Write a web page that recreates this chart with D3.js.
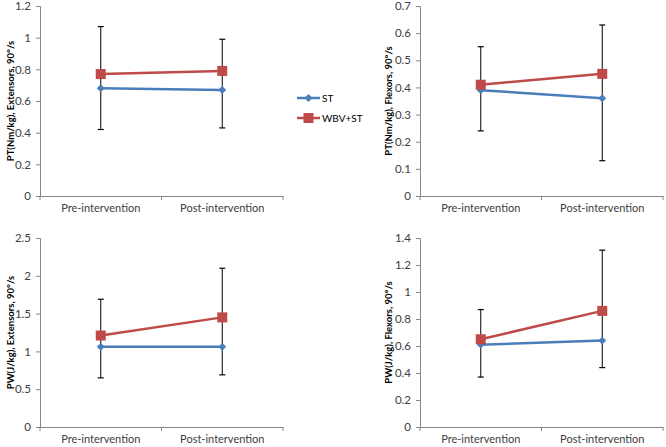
<!DOCTYPE html>
<html><head><meta charset="utf-8">
<script src="https://cdn.jsdelivr.net/npm/d3@7"></script>
<style>body{margin:0;background:#fff}svg{display:block}</style>
</head><body>
<script>
const categories = ["Pre-intervention", "Post-intervention"];
const seriesNames = ["ST", "WBV+ST"];
const panelTitles = ["PT(Nm/kg), Extensors, 90°/s", "PT(Nm/kg), Flexors, 90°/s", "PW(J/kg), Extensors, 90°/s", "PW(J/kg), Flexors, 90°/s"];
const yMax = [1.2, 0.7, 2.5, 1.4];
const yStep = [0.2, 0.1, 0.5, 0.2];
const stValues = [[0.68, 0.67], [0.39, 0.36], [1.06, 1.06], [0.61, 0.64]];
const wbvValues = [[0.77, 0.79], [0.41, 0.45], [1.21, 1.45], [0.65, 0.86]];
const errTop = [[1.07, 0.99], [0.55, 0.63], [1.69, 2.10], [0.87, 1.31]];
const errBottom = [[0.42, 0.43], [0.24, 0.13], [0.65, 0.69], [0.37, 0.44]];

const W = 666, H = 447;
const svg = d3.select("body").append("svg").attr("width", W).attr("height", H);
const font = "Lato, 'Open Sans', sans-serif";
const colors = {"ST": "#4a7ebb", "WBV+ST": "#be4b48"};

const layouts = [
  {x0: 40, x1: 283, y0: 6, y1: 196, lx: 10},
  {x0: 420, x1: 663, y0: 6, y1: 196, lx: 388},
  {x0: 40, x1: 283, y0: 238, y1: 427, lx: 10},
  {x0: 420, x1: 663, y0: 238, y1: 427, lx: 388}
];

layouts.forEach((L, i) => {
  const g = svg.append("g");
  const x = d3.scaleBand().domain(categories).range([L.x0, L.x1]);
  const y = d3.scaleLinear().domain([0, yMax[i]]).range([L.y1, L.y0]);
  const ticks = d3.range(0, yMax[i] + yStep[i] / 2, yStep[i]);
  const fmt = v => { const s = d3.format(".1f")(v); return s.endsWith(".0") ? s.slice(0, -2) : s; };

  const ya = g.append("g").attr("transform", `translate(${L.x0},0)`)
    .call(d3.axisLeft(y).tickValues(ticks).tickFormat(fmt).tickSizeOuter(0).tickSize(4).tickPadding(5));
  ya.select(".domain").attr("stroke", "#868686");
  ya.selectAll(".tick line").attr("stroke", "#868686");
  ya.selectAll("text").attr("font-family", font).attr("font-size", 11.5).attr("fill", "#404040");

  const xa = g.append("g").attr("transform", `translate(0,${L.y1})`)
    .call(d3.axisBottom(x).tickSize(0).tickPadding(8));
  xa.select(".domain").attr("stroke", "#868686");
  xa.selectAll("text").attr("font-family", font).attr("font-size", 11).attr("fill", "#404040");
  const bounds = [L.x0, x(categories[1]), L.x1];
  g.selectAll(".xt").data(bounds).enter().append("line")
    .attr("x1", d => d).attr("x2", d => d).attr("y1", L.y1).attr("y2", L.y1 + 4)
    .attr("stroke", "#868686");

  g.append("text")
    .attr("transform", `translate(${L.lx},${(L.y0 + L.y1) / 2}) rotate(-90)`)
    .attr("text-anchor", "middle").attr("dominant-baseline", "central")
    .attr("font-family", font).attr("font-size", 9.5).attr("font-weight", "bold").attr("fill", "#000")
    .text(panelTitles[i]);

  const cx = c => x(c) + x.bandwidth() / 2;

  categories.forEach((c, j) => {
    const px = cx(c);
    g.append("line").attr("x1", px).attr("x2", px).attr("y1", y(errTop[i][j])).attr("y2", y(errBottom[i][j]))
      .attr("stroke", "#000").attr("stroke-width", 1);
    [errTop[i][j], errBottom[i][j]].forEach(v => {
      g.append("line").attr("x1", px - 3).attr("x2", px + 3).attr("y1", y(v)).attr("y2", y(v))
        .attr("stroke", "#000").attr("stroke-width", 1.2);
    });
  });

  const line = d3.line().x((d, j) => cx(categories[j])).y(d => y(d));
  g.append("path").datum(stValues[i]).attr("d", line).attr("fill", "none")
    .attr("stroke", colors["ST"]).attr("stroke-width", 2.5);
  g.selectAll(".st").data(stValues[i]).enter().append("path")
    .attr("d", d3.symbol(d3.symbolDiamond2, 40)())
    .attr("transform", (d, j) => `translate(${cx(categories[j])},${y(d)})`)
    .attr("fill", colors["ST"]);
  g.append("path").datum(wbvValues[i]).attr("d", line).attr("fill", "none")
    .attr("stroke", colors["WBV+ST"]).attr("stroke-width", 2.5);
  g.selectAll(".wb").data(wbvValues[i]).enter().append("rect")
    .attr("x", (d, j) => cx(categories[j]) - 5).attr("y", d => y(d) - 5)
    .attr("width", 10).attr("height", 10).attr("fill", colors["WBV+ST"]);
});

const leg = svg.append("g");
seriesNames.forEach((s, k) => {
  const ly = 98 + k * 20;
  leg.append("line").attr("x1", 297).attr("x2", 320).attr("y1", ly).attr("y2", ly)
    .attr("stroke", colors[s]).attr("stroke-width", 2.5);
  if (s === "ST") {
    leg.append("path").attr("d", d3.symbol(d3.symbolDiamond2, 40)())
      .attr("transform", `translate(308.5,${ly})`).attr("fill", colors[s]);
  } else {
    leg.append("rect").attr("x", 303.5).attr("y", ly - 5).attr("width", 10).attr("height", 10).attr("fill", colors[s]);
  }
  leg.append("text").attr("x", 322).attr("y", ly).attr("dominant-baseline", "central")
    .attr("font-family", font).attr("font-size", 10).attr("fill", "#000").text(s);
});
</script>
</body></html>
